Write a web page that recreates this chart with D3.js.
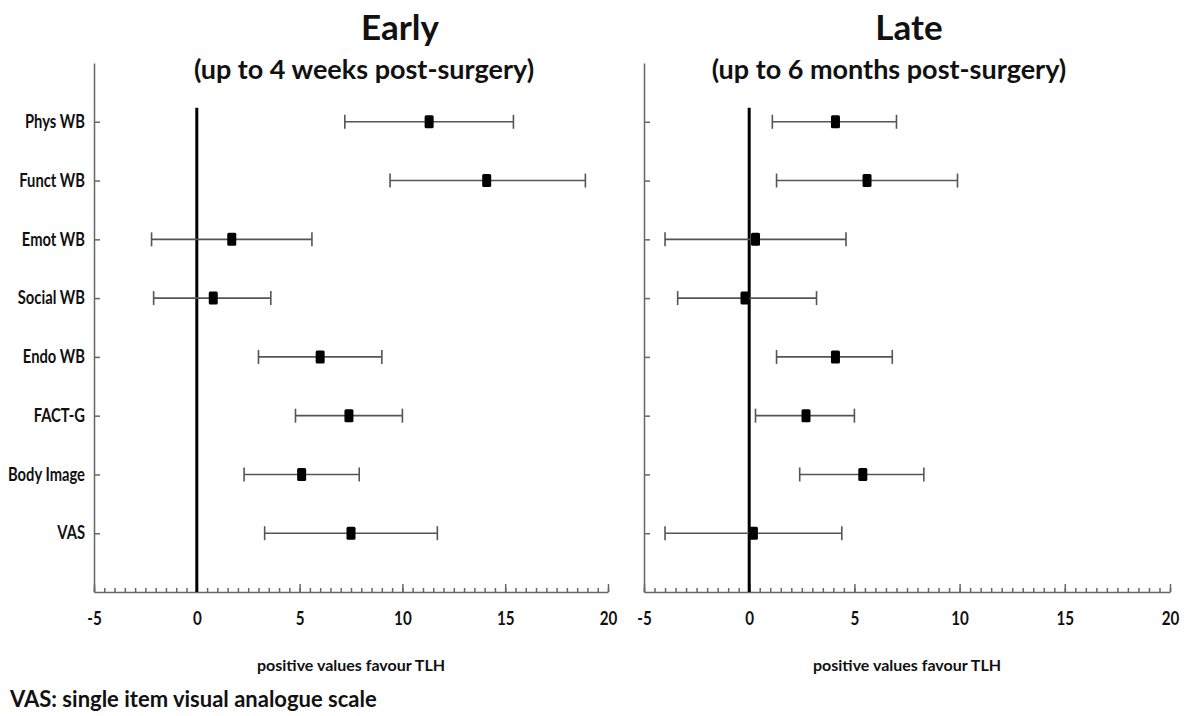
<!DOCTYPE html>
<html>
<head>
<meta charset="utf-8">
<script src="https://cdn.jsdelivr.net/npm/d3@7"></script>
<style>
  body { margin: 0; background: #fff; }
  svg text { font-family: Lato, "Open Sans", sans-serif; font-weight: bold; fill: #111; }
</style>
</head>
<body>
<div id="chart"></div>
<script>
// categories, top to bottom
var categories = ["Phys WB", "Funct WB", "Emot WB", "Social WB", "Endo WB", "FACT-G", "Body Image", "VAS"];

// early (up to 4 weeks) - mean difference and 95% CI
var earlyMean = [11.3, 14.1, 1.7, 0.8, 6.0, 7.4, 5.1, 7.5];
var earlyLow  = [7.2, 9.4, -2.2, -2.1, 3.0, 4.8, 2.3, 3.3];
var earlyHigh = [15.4, 18.9, 5.6, 3.6, 9.0, 10.0, 7.9, 11.7];

// late (up to 6 months)
var lateMean = [4.1, 5.6, 0.3, -0.2, 4.1, 2.7, 5.4, 0.2];
var lateLow  = [1.1, 1.3, -4.0, -3.4, 1.3, 0.3, 2.4, -4.0];
var lateHigh = [7.0, 9.9, 4.6, 3.2, 6.8, 5.0, 8.3, 4.4];

var xTicks = [-5, 0, 5, 10, 15, 20];
var xMinor = d3.range(-5, 20.01, 0.5);

var width = 1189, height = 716;
var axisColor = "#666", barColor = "#555";

var svg = d3.select("#chart")
  .append("svg")
    .attr("width", width)
    .attr("height", height);

var panels = [
  {title: "Early", sub: "(up to 4 weeks post-surgery)", left: 94, right: 608, titleX: 400, subX: 364,
   mean: earlyMean, low: earlyLow, high: earlyHigh, labels: true},
  {title: "Late", sub: "(up to 6 months post-surgery)", left: 644, right: 1170, titleX: 909, subX: 889,
   mean: lateMean, low: lateLow, high: lateHigh, labels: false}
];

var plotTop = 63, plotBottom = 592;

panels.forEach(function(p) {
  var g = svg.append("g");

  var x = d3.scaleLinear().domain([-5, 20]).range([p.left, p.right]);
  var y = d3.scalePoint().domain(categories).range([plotTop, plotBottom]).padding(1);

  // titles
  g.append("text")
    .attr("x", p.titleX).attr("y", 40)
    .attr("text-anchor", "middle")
    .attr("font-size", "35px")
    .text(p.title);
  g.append("text")
    .attr("x", p.subX).attr("y", 79)
    .attr("text-anchor", "middle")
    .attr("font-size", "27px")
    .text(p.sub);

  // minor ticks + axis line
  var minor = g.append("g")
    .attr("transform", "translate(0," + plotBottom + ")")
    .call(d3.axisBottom(x).tickValues(xMinor).tickSize(-4).tickSizeOuter(0).tickFormat(""));
  // major ticks + labels
  var major = g.append("g")
    .attr("transform", "translate(0," + plotBottom + ")")
    .call(d3.axisBottom(x).tickValues(xTicks).tickSize(-8).tickSizeOuter(0).tickPadding(20)
      .tickFormat(function(d) { return String(d); }));
  major.select(".domain").remove();
  // narrow, tall glyphs like the original
  major.selectAll("text").attr("font-size", "19px").attr("fill", "#111")
    .attr("transform", "scale(0.8,1)")
    .style("font-family", "Lato, sans-serif");

  // y axis
  var yAx = g.append("g")
    .attr("transform", "translate(" + p.left + ",0)")
    .call(d3.axisLeft(y).tickSize(-6).tickSizeOuter(0).tickPadding(11)
      .tickFormat(p.labels ? null : ""));
  yAx.selectAll("text").attr("font-size", "18px").attr("fill", "#111")
    .attr("transform", "scale(0.82,1)")
    .style("font-family", "Lato, sans-serif");

  [minor, major, yAx].forEach(function(a) {
    a.selectAll("line, path").attr("stroke", axisColor).attr("stroke-width", 1.5);
  });

  // zero reference line
  g.append("line")
    .attr("x1", x(0)).attr("x2", x(0))
    .attr("y1", y(categories[0]) - 14).attr("y2", plotBottom)
    .attr("stroke", "#000").attr("stroke-width", 3);

  // error bars
  var rows = g.selectAll(".row")
    .data(categories)
    .enter().append("g").attr("class", "row");

  rows.append("line")
    .attr("x1", function(d, i) { return x(p.low[i]); })
    .attr("x2", function(d, i) { return x(p.high[i]); })
    .attr("y1", function(d) { return y(d); })
    .attr("y2", function(d) { return y(d); })
    .attr("stroke", barColor).attr("stroke-width", 1.6);

  ["low", "high"].forEach(function(k) {
    rows.append("line")
      .attr("x1", function(d, i) { return x(p[k][i]); })
      .attr("x2", function(d, i) { return x(p[k][i]); })
      .attr("y1", function(d) { return y(d) - 7; })
      .attr("y2", function(d) { return y(d) + 7; })
      .attr("stroke", barColor).attr("stroke-width", 1.6);
  });

  rows.append("rect")
    .attr("x", function(d, i) { return x(p.mean[i]) - 4.5; })
    .attr("y", function(d) { return y(d) - 6.5; })
    .attr("width", 9).attr("height", 13)
    .attr("rx", 1.5)
    .attr("fill", "#000");

  // x axis caption
  g.append("text")
    .attr("x", (p.left + p.right) / 2).attr("y", 671)
    .attr("text-anchor", "middle")
    .attr("font-size", "16px")
    .text("positive values favour TLH");
});

svg.append("text")
  .attr("x", 10).attr("y", 707)
  .attr("font-size", "22px")
  .text("VAS: single item visual analogue scale");
</script>
</body>
</html>
